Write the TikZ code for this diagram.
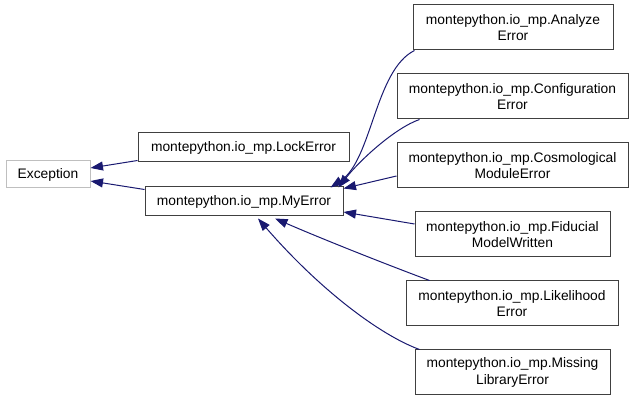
\documentclass[tikz,border=0pt]{standalone}
\usepackage{fontspec}
\setmainfont{Liberation Sans}
\usetikzlibrary{arrows.meta,calc}
\definecolor{edgeblue}{HTML}{191970}
\definecolor{boxgray}{HTML}{BFBFBF}
\definecolor{boxline}{HTML}{404040}
\tikzset{
  cls/.style={draw=boxline, line width=1pt, fill=white, inner sep=0pt, align=center,
    font=\fontsize{13.8pt}{16.5pt}\selectfont},
  extcls/.style={cls, draw=boxgray},
  edge/.style={draw=edgeblue, line width=1pt, -{Triangle[length=12.5pt,width=9pt]}},
}
\begin{document}
\begin{tikzpicture}[x=1pt,y=-1pt]
\useasboundingbox (0,0) rectangle (635,403);
\node[extcls, minimum width=84pt, minimum height=27pt] (exc) at (48,174.5) {Exception};
\node[cls, minimum width=211pt, minimum height=29pt] (lock) at (243.5,147.5) {montepython.io\_mp.LockError};
\node[cls, minimum width=198pt, minimum height=29pt] (my) at (244,201.5) {montepython.io\_mp.MyError};
\node[cls, minimum width=200pt, minimum height=45pt] (an) at (513,27.5) {montepython.io\_mp.Analyze\\Error};
\node[cls, minimum width=231pt, minimum height=45pt] (conf) at (512.5,96.5) {montepython.io\_mp.Configuration\\Error};
\node[cls, minimum width=231pt, minimum height=45pt] (cosmo) at (512.5,165.5) {montepython.io\_mp.Cosmological\\ModuleError};
\node[cls, minimum width=195pt, minimum height=45pt] (fid) at (512.5,234.5) {montepython.io\_mp.Fiducial\\ModelWritten};
\node[cls, minimum width=212pt, minimum height=45pt] (like) at (512,303.5) {montepython.io\_mp.Likelihood\\Error};
\node[cls, minimum width=195pt, minimum height=45pt] (miss) at (512.5,372.5) {montepython.io\_mp.Missing\\LibraryError};

\draw[edge] ([yshift=2pt]lock.south west) -- ([yshift=6.5pt]exc.east);
\draw[edge] ([yshift=-3pt]my.north west) -- ([yshift=-6.5pt]exc.east);
\draw[edge] ([xshift=2pt]an.south west) .. controls (375,70) and (372,160) .. ([xshift=-13pt,yshift=-1pt]my.north east);
\draw[edge] ([xshift=23pt]conf.south west) .. controls (395,128) and (360,160) .. ([xshift=-5pt,yshift=-1pt]my.north east);
\draw[edge] ([yshift=-10.5pt]cosmo.west) -- ([yshift=-2pt]my.north east);
\draw[edge] ([yshift=10.5pt]fid.west) -- ([yshift=-10.5pt]my.east);
\draw[edge] ([xshift=24pt]like.north west) .. controls (380,262) and (320,238) .. ([xshift=31pt,yshift=-2pt]my.south);
\draw[edge] ([xshift=5pt]miss.north west) .. controls (380,335) and (320,290) .. ([xshift=14pt,yshift=-2pt]my.south);
\end{tikzpicture}
\end{document}
